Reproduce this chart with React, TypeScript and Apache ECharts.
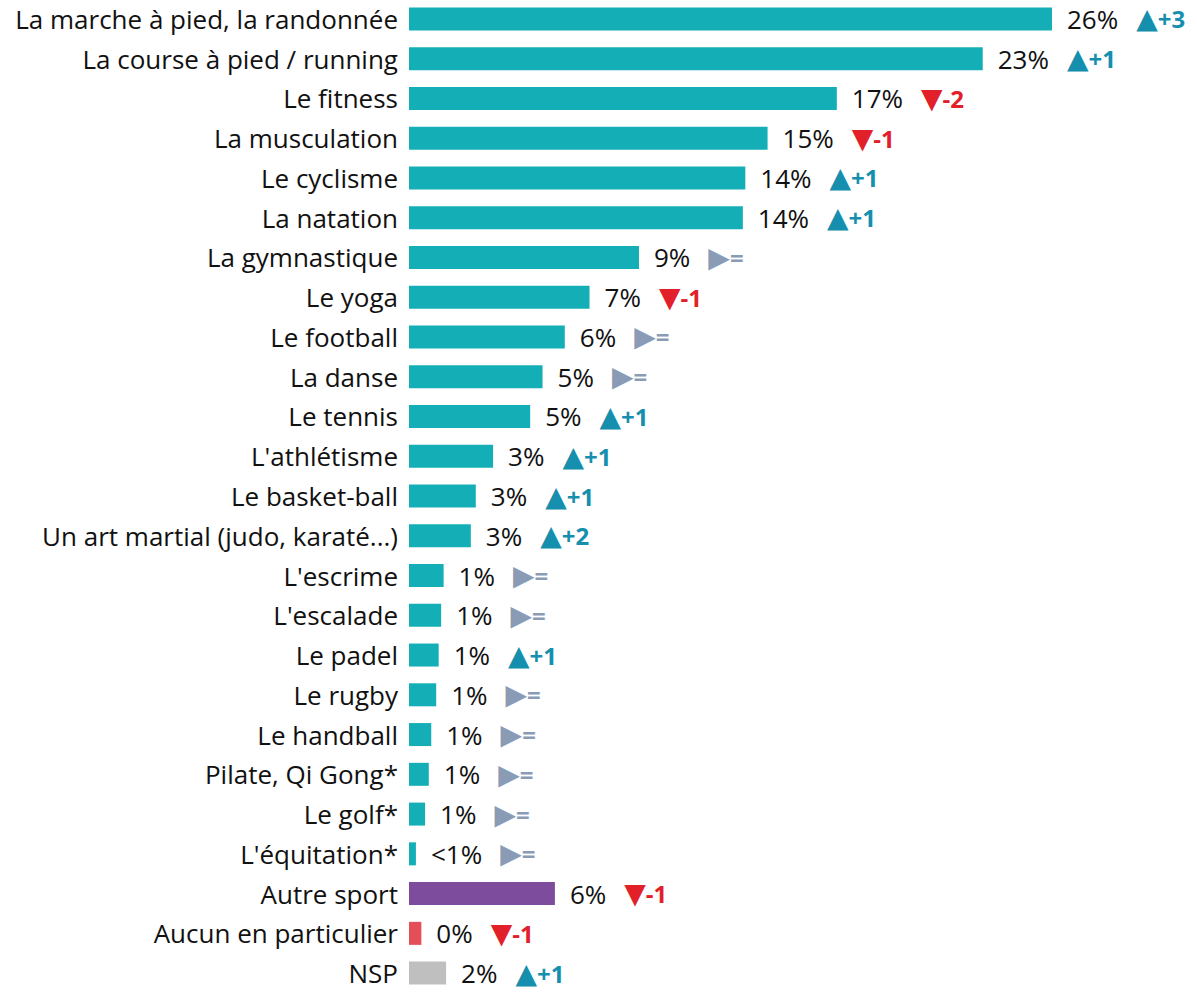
import React, { useEffect, useRef } from "react";
import * as echarts from "echarts";

const categories = [
  "La marche à pied, la randonnée",
  "La course à pied / running",
  "Le fitness",
  "La musculation",
  "Le cyclisme",
  "La natation",
  "La gymnastique",
  "Le yoga",
  "Le football",
  "La danse",
  "Le tennis",
  "L'athlétisme",
  "Le basket-ball",
  "Un art martial (judo, karaté...)",
  "L'escrime",
  "L'escalade",
  "Le padel",
  "Le rugby",
  "Le handball",
  "Pilate, Qi Gong*",
  "Le golf*",
  "L'équitation*",
  "Autre sport",
  "Aucun en particulier",
  "NSP",
];

const values = [
  26.0, 23.2, 17.3, 14.5, 13.6, 13.5, 9.3, 7.3, 6.3, 5.4, 4.9, 3.4, 2.7, 2.5,
  1.4, 1.3, 1.2, 1.1, 0.9, 0.8, 0.65, 0.28, 5.9, 0.5, 1.5,
];

const valueLabels = [
  "26%", "23%", "17%", "15%", "14%", "14%", "9%", "7%", "6%", "5%", "5%", "3%",
  "3%", "3%", "1%", "1%", "1%", "1%", "1%", "1%", "1%", "<1%", "6%", "0%", "2%",
];

const evolutions = [
  "+3", "+1", "-2", "-1", "+1", "+1", "=", "-1", "=", "=", "+1", "+1", "+1",
  "+2", "=", "=", "+1", "=", "=", "=", "=", "=", "-1", "-1", "+1",
];

const specialColors: Record<string, string> = {
  "Autre sport": "#7E4C9C",
  "Aucun en particulier": "#E44F57",
  NSP: "#BFBFBF",
};
const BAR = "#14AFB6";
const UP = "#168FAE";
const DOWN = "#E1202A";
const SAME = "#8A9BB6";
const FONT = "'Open Sans', 'Noto Sans', sans-serif";
const SYM_FONT = "'DejaVu Sans', sans-serif";
const LH = 24;

export default function App() {
  const ref = useRef<HTMLDivElement>(null);
  useEffect(() => {
    document.body.style.margin = "0";
    if (!ref.current) return;
    const chart = echarts.init(ref.current, undefined, { renderer: "svg" });
    const pxPerUnit = 24.73;
    const xMax = 30;
    const left = 409;
    const right = 1197 - left - xMax * pxPerUnit;
    chart.setOption({
      animation: false,
      grid: {
        left,
        right,
        top: -1,
        height: 994,
        containLabel: false,
        outerBoundsMode: "none",
      },
      xAxis: { type: "value", min: 0, max: xMax, show: false },
      yAxis: {
        type: "category",
        inverse: true,
        data: categories,
        axisLine: { show: false },
        axisTick: { show: false },
        splitLine: { show: false },
        axisLabel: {
          color: "#111",
          fontSize: 26,
          lineHeight: LH,
          fontFamily: FONT,
          margin: 11,
        },
      },
      series: [
        {
          type: "bar",
          barWidth: 23,
          data: values.map((v, i) => ({
            value: v,
            itemStyle: { color: specialColors[categories[i]] || BAR },
          })),
          label: {
            show: true,
            position: "right",
            distance: 15,
            formatter: (p: any) => {
              const i = p.dataIndex;
              const e = evolutions[i];
              let cls = "s";
              let sym = "▶";
              if (e.startsWith("+")) {
                cls = "u";
                sym = "▲";
              } else if (e.startsWith("-")) {
                cls = "d";
                sym = "▼";
              }
              return `{v|${valueLabels[i]}}{g|}{${cls}t|${sym}}{${cls}|${e}}`;
            },
            rich: {
              v: { color: "#111", fontSize: 26, lineHeight: LH, fontFamily: FONT },
              g: { width: 18, lineHeight: LH },
              ut: { color: UP, fontSize: 28, lineHeight: LH, fontFamily: SYM_FONT },
              dt: { color: DOWN, fontSize: 28, lineHeight: LH, fontFamily: SYM_FONT },
              st: { color: SAME, fontSize: 28, lineHeight: LH, fontFamily: SYM_FONT },
              u: { color: UP, fontSize: 24, lineHeight: LH, fontWeight: "bold", fontFamily: FONT },
              d: { color: DOWN, fontSize: 24, lineHeight: LH, fontWeight: "bold", fontFamily: FONT },
              s: { color: SAME, fontSize: 24, lineHeight: LH, fontWeight: "bold", fontFamily: FONT },
            },
          },
        },
      ],
    });
    return () => chart.dispose();
  }, []);
  return <div ref={ref} style={{ width: 1197, height: 992 }} />;
}
